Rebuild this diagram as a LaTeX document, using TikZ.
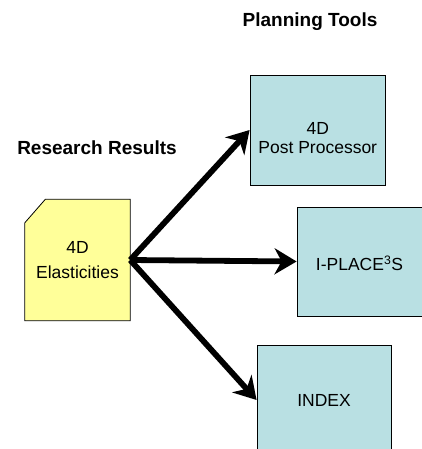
\documentclass[tikz,border=0pt]{standalone}
\usepackage{fontspec}
\setmainfont{Liberation Sans}
\usetikzlibrary{arrows.meta,backgrounds}

\definecolor{cardyellow}{RGB}{255,255,153}
\definecolor{toolblue}{RGB}{185,224,227}

\tikzset{
	heading/.style={font=\fontsize{19}{22}\selectfont\bfseries},
	tool/.style={draw=black, line width=0.8pt, fill=toolblue, align=center, inner sep=0pt, font=\fontsize{17.5}{19}\selectfont},
	card/.style={align=center, inner sep=0pt, font=\fontsize{17.5}{25.5}\selectfont},
	cardline/.style={draw=black, line width=0.8pt, fill=cardyellow},
	flow/.style={line width=5.8pt, -{Stealth[length=22pt,width=26pt,inset=7pt]}}
}

\begin{document}
\begin{tikzpicture}[x=1pt,y=-1pt]
	\useasboundingbox (0,0) rectangle (421,449);

	% Titles
		\node[heading] (toolstitle) at (310,22) {Planning Tools};
		\node[heading] (resultstitle) at (97,148) {Research Results};

	% Boxes
		\node[card, minimum width=105pt, minimum height=121pt] (card) at (77.5,260) {4D\\Elasticities};
		\node[tool, minimum width=135.5pt, minimum height=110pt] (post) at (317.75,130) {\rule{0pt}{29pt}4D\\Post Processor};
		\node[tool, minimum width=125pt, minimum height=109pt, text height=18pt] (iplace) at (359.5,261.5) {I-PLACE\textsuperscript{3}S};
		\node[tool, minimum width=134pt, minimum height=110pt] (index) at (324,400) {INDEX};

	% Card with cut corner
		\begin{scope}[on background layer]
			\draw[cardline] ([xshift=20.5pt]card.north west) -- (card.north east) -- (card.south east) -- (card.south west) -- ([yshift=-23.5pt]card.north west) -- cycle;
		\end{scope}

	% Arrows
		\draw[flow] (card.east) -- (post.west);
		\draw[flow] (card.east) -- (iplace.west);
		\draw[flow] (card.east) -- (index.west);
\end{tikzpicture}
\end{document}
